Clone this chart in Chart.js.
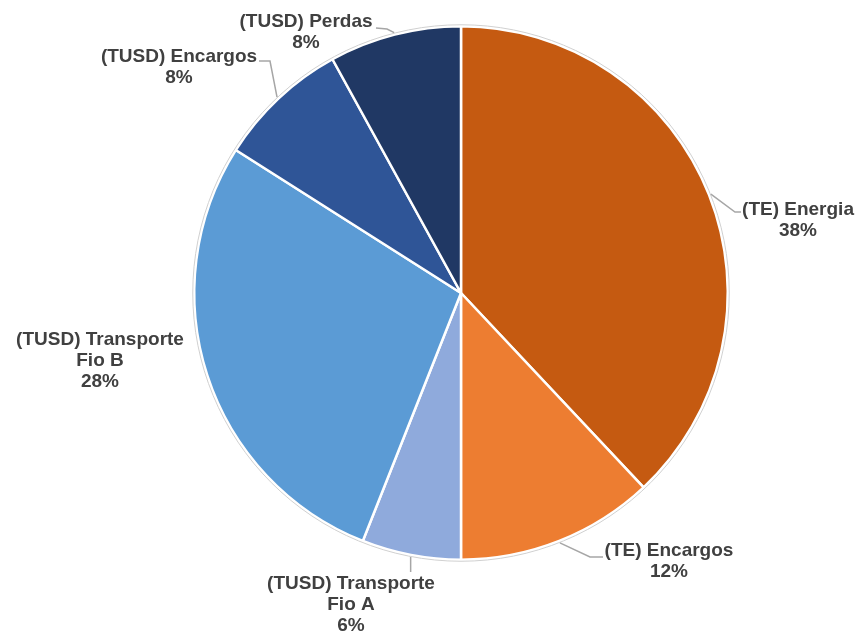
<!DOCTYPE html>
<html>
<head>
<meta charset="utf-8">
<script src="https://cdn.jsdelivr.net/npm/chart.js@4/dist/chart.umd.min.js"></script>
<style>
  html, body { margin: 0; padding: 0; background: #ffffff; }
  #wrap { width: 857px; height: 634px; }
</style>
</head>
<body>
<div id="wrap"><canvas id="pie" width="857" height="634"></canvas></div>
<script>
// Composição da tarifa de energia (%)
const categories = [
  ['(TE) Energia'],
  ['(TE) Encargos'],
  ['(TUSD) Transporte', 'Fio A'],
  ['(TUSD) Transporte', 'Fio B'],
  ['(TUSD) Encargos'],
  ['(TUSD) Perdas']
];
const shares = [38, 12, 6, 28, 8, 8];
const sliceColors = ['#C55A11', '#ED7D31', '#8FAADC', '#5B9BD5', '#2F5597', '#203864'];

// Label boxes: centre x, first-line centre y, and leader-line elbows (from slice edge outward)
const labelLayout = [
  { x: 798, y: 210, path: [[735, 212], [741, 212]] },
  { x: 669, y: 551, path: [[590, 557], [603, 557]] },
  { x: 351, y: 584, path: 'down', end: 572 },
  { x: 100, y: 340, path: null },
  { x: 179, y: 57,  path: [[270, 61], [259, 61]] },
  { x: 306, y: 22,  path: [[387, 29], [376, 28]] }
];

const outlinePlugin = {
  id: 'pieOutline',
  afterDatasetsDraw(chart) {
    const arc = chart.getDatasetMeta(0).data[0];
    const ctx = chart.ctx;
    ctx.save();
    ctx.beginPath();
    ctx.arc(arc.x, arc.y, arc.outerRadius + 1.5, 0, Math.PI * 2);
    ctx.strokeStyle = '#d0d0d0';
    ctx.lineWidth = 1;
    ctx.stroke();
    ctx.restore();
  }
};

const labelPlugin = {
  id: 'sliceLabels',
  afterDraw(chart) {
    const ctx = chart.ctx;
    const meta = chart.getDatasetMeta(0);
    const values = chart.data.datasets[0].data;
    ctx.save();
    meta.data.forEach((arc, i) => {
      const lay = labelLayout[i];
      const mid = (arc.startAngle + arc.endAngle) / 2;
      const r = arc.outerRadius + 2;
      const ax = arc.x + Math.cos(mid) * r;
      const ay = arc.y + Math.sin(mid) * r;

      ctx.strokeStyle = '#a6a6a6';
      ctx.lineWidth = 1.5;
      if (Array.isArray(lay.path)) {
        ctx.beginPath();
        ctx.moveTo(ax, ay);
        lay.path.forEach(p => ctx.lineTo(p[0], p[1]));
        ctx.stroke();
      } else if (lay.path === 'down') {
        ctx.beginPath();
        ctx.moveTo(ax, ay);
        ctx.lineTo(ax, lay.end);
        ctx.stroke();
      }

      const lines = chart.data.labels[i].concat([values[i] + '%']);
      ctx.fillStyle = '#404040';
      ctx.font = 'bold 19px "Liberation Sans", Arial, sans-serif';
      ctx.textAlign = 'center';
      ctx.textBaseline = 'middle';
      lines.forEach((t, k) => ctx.fillText(t, lay.x, lay.y + k * 21));
    });
    ctx.restore();
  }
};

new Chart(document.getElementById('pie'), {
  type: 'pie',
  data: {
    labels: categories,
    datasets: [{
      data: shares,
      backgroundColor: sliceColors,
      borderColor: '#ffffff',
      borderWidth: 2.5
    }]
  },
  options: {
    responsive: false,
    animation: false,
    layout: { padding: { top: 25, bottom: 73, left: 100, right: 35 } },
    plugins: {
      legend: { display: false },
      tooltip: { enabled: false }
    }
  },
  plugins: [outlinePlugin, labelPlugin]
});
</script>
</body>
</html>
